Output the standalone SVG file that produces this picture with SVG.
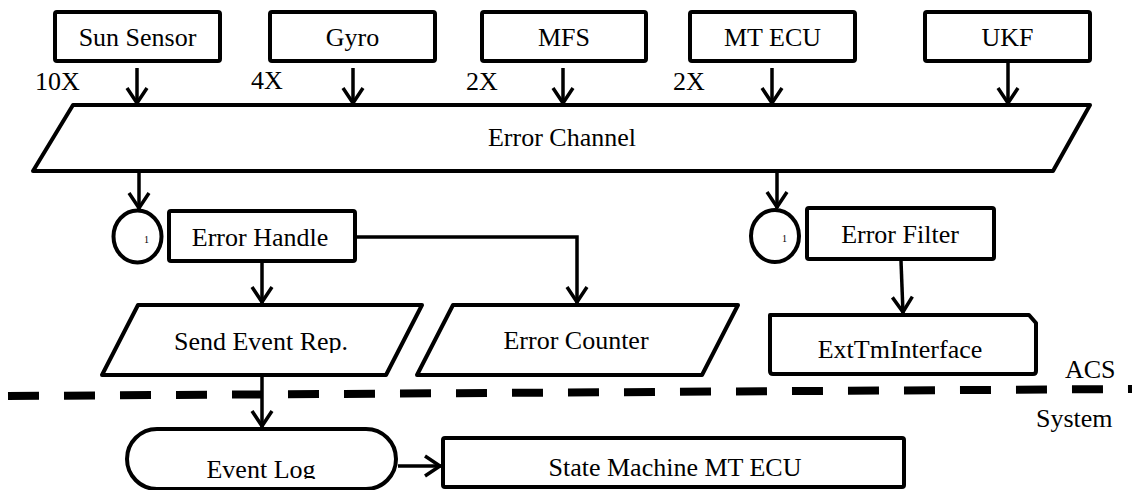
<svg xmlns="http://www.w3.org/2000/svg" width="1132" height="490" viewBox="0 0 1132 490">
  <style>
    .box { fill: #fff; stroke: #000; stroke-width: 4; stroke-linejoin: round; }
    .lbl { font-family: "Liberation Serif", "Times New Roman", serif; font-size: 26px; fill: #000; }
    .mid { text-anchor: middle; }
    .tiny { font-family: "Liberation Serif", "Times New Roman", serif; font-size: 10px; fill: #000; }
    .wire { fill: none; stroke: #000; stroke-width: 3.5; marker-end: url(#arr); }
    .sep { fill: none; stroke: #000; stroke-width: 8; stroke-dasharray: 31 25; }
  </style>
  <defs>
    <marker id="arr" viewBox="-20 -12 24 24" refX="0" refY="0" markerWidth="24" markerHeight="24" markerUnits="userSpaceOnUse" orient="auto">
      <path d="M-16,-10 L-1,0 L-16,10" fill="none" stroke="#000" stroke-width="3.5"/>
    </marker>
    <clipPath id="clipSend"><rect x="0" y="300" width="1132" height="53"/></clipPath>
    <clipPath id="clipLog"><rect x="0" y="430" width="1132" height="49"/></clipPath>
  </defs>

  <rect width="1132" height="490" fill="#fff"/>

  <!-- system boundary -->
  <path class="sep" d="M8,396 L1132,389"/>
  <text class="lbl" x="1065" y="378">ACS</text>
  <text class="lbl" x="1036" y="427">System</text>

  <!-- sources -->
  <g id="sun-sensor">
    <rect class="box" x="55" y="12" width="165" height="49" rx="2"/>
    <text class="lbl mid" x="137.5" y="46">Sun Sensor</text>
  </g>
  <g id="gyro">
    <rect class="box" x="270" y="12" width="165" height="49" rx="2"/>
    <text class="lbl mid" x="352.5" y="46">Gyro</text>
  </g>
  <g id="mfs">
    <rect class="box" x="482" y="12" width="164" height="49" rx="2"/>
    <text class="lbl mid" x="564" y="46">MFS</text>
  </g>
  <g id="mt-ecu">
    <rect class="box" x="690" y="12" width="165" height="49" rx="2"/>
    <text class="lbl mid" x="772.5" y="46">MT ECU</text>
  </g>
  <g id="ukf">
    <rect class="box" x="925" y="12" width="165" height="49" rx="2"/>
    <text class="lbl mid" x="1007.5" y="46">UKF</text>
  </g>

  <!-- multiplicities -->
  <text class="lbl" x="35" y="90">10X</text>
  <text class="lbl" x="251" y="89">4X</text>
  <text class="lbl" x="466" y="90">2X</text>
  <text class="lbl" x="673" y="90">2X</text>

  <g id="error-channel">
    <polygon class="box" points="73,105 1090,105 1053,171 33,171"/>
    <text class="lbl mid" x="562" y="146">Error Channel</text>
  </g>

  <g id="queue-handle">
    <ellipse class="box" cx="137.5" cy="236.5" rx="24" ry="26"/>
    <text class="tiny" x="144" y="243">1</text>
  </g>
  <g id="error-handle">
    <rect class="box" x="169" y="211" width="186" height="50" rx="2"/>
    <text class="lbl mid" x="260" y="246">Error Handle</text>
  </g>

  <g id="queue-filter">
    <ellipse class="box" cx="775" cy="236" rx="24" ry="26"/>
    <text class="tiny" x="782" y="242">1</text>
  </g>
  <g id="error-filter">
    <rect class="box" x="807" y="208" width="187" height="51" rx="2"/>
    <text class="lbl mid" x="900" y="243">Error Filter</text>
  </g>

  <g id="send-event-rep">
    <polygon class="box" points="138,305 422,305 386,375 102,375"/>
    <text class="lbl mid" x="261" y="350" clip-path="url(#clipSend)">Send Event Rep.</text>
  </g>
  <g id="error-counter">
    <polygon class="box" points="453,305 738,305 702,375 417,375"/>
    <text class="lbl mid" x="576" y="349">Error Counter</text>
  </g>
  <g id="ext-tm-interface">
    <path class="box" d="M770,315 H1029 L1036,323 V371 Q1036,374 1033,374 H773 Q770,374 770,371 Z"/>
    <text class="lbl mid" x="900" y="358">ExtTmInterface</text>
  </g>

  <g id="event-log">
    <rect class="box" x="127" y="429" width="269" height="60" rx="30"/>
    <text class="lbl mid" x="261" y="478" clip-path="url(#clipLog)">Event Log</text>
  </g>
  <g id="state-machine-mt-ecu">
    <rect class="box" x="443" y="438" width="461" height="49" rx="2"/>
    <text class="lbl mid" x="675" y="476">State Machine MT ECU</text>
  </g>

  <g id="connectors">
    <path class="wire" d="M137,68 V104"/>
    <path class="wire" d="M353,68 V104"/>
    <path class="wire" d="M563,68 V104"/>
    <path class="wire" d="M772,68 V104"/>
    <path class="wire" d="M1008,63 V104"/>
    <path class="wire" d="M139,171 V209"/>
    <path class="wire" d="M777,171 V208"/>
    <path class="wire" d="M262,263 V303"/>
    <path class="wire" d="M357,237 H577 V303"/>
    <path class="wire" d="M901,261 L903,313"/>
    <path class="wire" d="M262,377 V427"/>
    <path class="wire" d="M398,466 H441"/>
  </g>
</svg>
